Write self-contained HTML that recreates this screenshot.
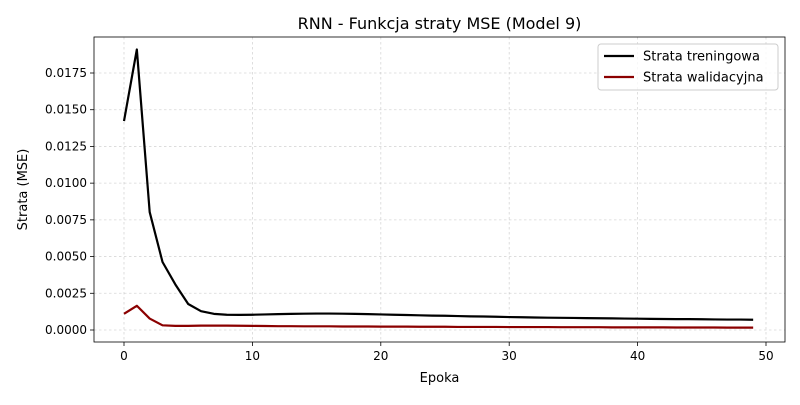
<!DOCTYPE html>
<html><head><meta charset="utf-8"><style>
body{margin:0;background:#fff;font-family:"Liberation Sans","DejaVu Sans",sans-serif;}
svg text{font-family:"DejaVu Sans","Liberation Sans",sans-serif;}
</style></head><body>
<svg id="chart" width="800" height="400" xmlns="http://www.w3.org/2000/svg"></svg>
<script>
const epochs = Array.from({length:50},(_,i)=>i);
const trainLoss = [0.01423,0.0191,0.00803,0.00463,0.0031,0.00177,0.00128,0.00110,0.00104,0.00103,
0.00104,0.00106,0.00108,0.00110,0.00111,0.00112,0.00112,0.00111,0.00110,0.00108,
0.00106,0.00104,0.00102,0.00100,0.00098,0.00097,0.00095,0.00093,0.00092,0.00090,
0.00088,0.00087,0.00085,0.00084,0.00083,0.00082,0.00081,0.00080,0.00079,0.00078,
0.00077,0.00076,0.00075,0.00074,0.00074,0.00073,0.00072,0.00071,0.00071,0.00070];
const valLoss = [0.0011,0.00165,0.00078,0.00032,0.00028,0.00028,0.0003,0.0003,0.0003,0.00029,
0.00028,0.00027,0.00026,0.00026,0.00025,0.00025,0.00025,0.00024,0.00024,0.00024,
0.00023,0.00023,0.00023,0.00022,0.00022,0.00022,0.00021,0.00021,0.00021,0.00021,
0.0002,0.0002,0.0002,0.0002,0.00019,0.00019,0.00019,0.00019,0.00018,0.00018,
0.00018,0.00018,0.00018,0.00017,0.00017,0.00017,0.00017,0.00016,0.00016,0.00016];
const xTicks = [0,10,20,30,40,50];
const yTicks = [0,0.0025,0.005,0.0075,0.01,0.0125,0.015,0.0175];
const yTickLabels = ["0.0000","0.0025","0.0050","0.0075","0.0100","0.0125","0.0150","0.0175"];

const L=94,R=785,T=37,B=342;
const x=v=>124+(v)*(766-124)/50;
const y=v=>330-v*(330-73)/0.0175;
const svg=document.getElementById('chart');
const NS="http://www.w3.org/2000/svg";
function mk(tag,attrs,parent){const e=document.createElementNS(NS,tag);for(const k in attrs)e.setAttribute(k,attrs[k]);(parent||svg).appendChild(e);return e;}

xTicks.forEach(t=>{
  const g=mk('line',{x1:x(t),x2:x(t),y1:T,y2:B,stroke:'#b0b0b0','stroke-width':0.8,'stroke-dasharray':'2.5,2.5','stroke-opacity':0.5});
  
  
  const tk=mk('line',{x1:x(t),x2:x(t),y1:B,y2:B+4,stroke:'#000','stroke-width':0.8});
  
  
  const tx=mk('text',{x:x(t),y:B+18,'font-size':12,'text-anchor':'middle'});
  tx.textContent=t;
  
  
});
yTicks.forEach((t,i)=>{
  const g=mk('line',{x1:L,x2:R,y1:y(t),y2:y(t),stroke:'#b0b0b0','stroke-width':0.8,'stroke-dasharray':'2.5,2.5','stroke-opacity':0.5});
  
  
  const tk=mk('line',{x1:L-4,x2:L,y1:y(t),y2:y(t),stroke:'#000','stroke-width':0.8});
  
  
  const tx=mk('text',{x:L-7,y:y(t)+4,'font-size':12,'text-anchor':'end'});
  tx.textContent=yTickLabels[i];
  
  
});
function line(data,color,name){
  const p=mk('polyline',{points:data.map((v,i)=>x(epochs[i])+','+y(v)).join(' '),fill:'none',stroke:color,'stroke-width':2.2,'stroke-linejoin':'round'});
  
  
}
line(trainLoss,'#000','train-loss-line');
line(valLoss,'#8b0000','val-loss-line');
const frame=mk('rect',{x:L,y:T,width:R-L,height:B-T,fill:'none',stroke:'#000','stroke-width':0.8});


const title=mk('text',{x:(L+R)/2,y:29,'font-size':16,'text-anchor':'middle'});
title.textContent='RNN - Funkcja straty MSE (Model 9)';


const xl=mk('text',{x:(L+R)/2,y:382,'font-size':13,'text-anchor':'middle'});
xl.textContent='Epoka';


const yl=mk('text',{x:27,y:(T+B)/2,'font-size':13,'text-anchor':'middle',transform:'rotate(-90 27 '+((T+B)/2)+')'});
yl.textContent='Strata (MSE)';


const lg=mk('g',{});


mk('rect',{x:598,y:44,width:180,height:46,rx:3,fill:'#fff','fill-opacity':0.8,stroke:'#ccc'},lg);
[['Strata treningowa','#000',56],['Strata walidacyjna','#8b0000',77]].forEach(([n,c,yy])=>{
  const ln=mk('line',{x1:604,x2:634,y1:yy,y2:yy,stroke:c,'stroke-width':2.2},lg);
  
  
  const t=mk('text',{x:643,y:yy+4.5,'font-size':13},lg);
  t.textContent=n;
  
  
});
</script>
</body></html>
